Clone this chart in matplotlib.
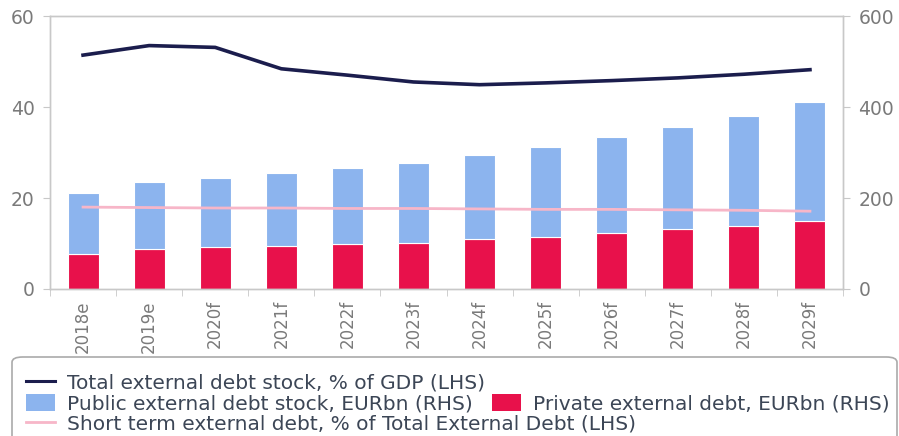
import matplotlib.pyplot as plt
from matplotlib.patches import FancyBboxPatch, Patch
from matplotlib.lines import Line2D
import numpy as np

years = ['2018e', '2019e', '2020f', '2021f', '2022f', '2023f',
         '2024f', '2025f', '2026f', '2027f', '2028f', '2029f']
private_debt = [77, 87, 92, 94, 98, 102, 109, 115, 122, 132, 139, 149]
total_stock = [212, 236, 245, 256, 265, 276, 294, 313, 334, 357, 381, 412]
public_debt = [t - p for t, p in zip(total_stock, private_debt)]
debt_gdp = [51.4, 53.5, 53.1, 48.4, 47.0, 45.5, 44.9, 45.3, 45.8, 46.4, 47.2, 48.2]
short_term = [18.0, 17.9, 17.8, 17.8, 17.7, 17.7, 17.6, 17.5, 17.5, 17.4, 17.3, 17.1]

navy = '#1b1d4d'
blue = '#8cb4ee'
red = '#e8114b'
pink = '#f7b6c8'
grey = '#c8c8c8'
txt = '#7a7a7a'

plt.rcParams['font.family'] = ['DejaVu Sans']

fig = plt.figure(figsize=(8.99, 4.36), dpi=100)
ax = fig.add_axes([50 / 899, 1 - 289 / 436, 793 / 899, 273 / 436])
ax2 = ax.twinx()

x = np.arange(len(years))
ax2.bar(x, private_debt, width=0.47, color=red, edgecolor='white', linewidth=0.8)
ax2.bar(x, public_debt, bottom=private_debt, width=0.47, color=blue,
        edgecolor='white', linewidth=0.8)
ax2.set_ylim(0, 600)
ax2.set_yticks([0, 200, 400, 600])

ax.plot(x, short_term, color=pink, lw=2)
ax.plot(x, debt_gdp, color=navy, lw=2.6)
ax.set_ylim(0, 60)
ax.set_yticks([0, 20, 40, 60])
ax.set_xlim(-0.5, len(years) - 0.5)

# lines drawn above the bars
ax.set_zorder(ax2.get_zorder() + 1)
ax.patch.set_visible(False)

ax.set_xticks(x)
ax.set_xticklabels(years, rotation=90)
ax.set_xticks(np.arange(-0.5, len(years)), minor=True)
ax.tick_params(axis='x', which='major', length=0, pad=8, labelsize=12, labelcolor=txt)
ax.tick_params(axis='x', which='minor', length=5, color=grey)
ax.tick_params(axis='y', length=5, color=grey, labelsize=13.5, labelcolor=txt, pad=6)
ax2.tick_params(axis='y', length=5, color=grey, labelsize=13.5, labelcolor=txt, pad=6)
for a in (ax, ax2):
    for s in a.spines.values():
        s.set_color(grey)
        s.set_linewidth(1)

# legend box, bottom edge runs off the figure
box = FancyBboxPatch((12 / 899, -0.03), 885 / 899, (436 - 357) / 436 + 0.03,
                     boxstyle='round,pad=0,rounding_size=0.012',
                     transform=fig.transFigure, facecolor='white',
                     edgecolor='#aaaaaa', linewidth=1.2, zorder=5)
fig.patches.append(box)

leg_kw = dict(frameon=False, handlelength=1.45, handletextpad=0.6,
              borderpad=0, labelcolor='#3c4656', loc='center left',
              columnspacing=0.95, handleheight=0.85, borderaxespad=0,
              prop={'family': 'DejaVu Sans', 'size': 14.5})
rows = [
    ([Line2D([], [], color=navy, lw=2.2)],
     ['Total external debt stock, % of GDP (LHS)'], 383),
    ([Patch(facecolor=blue), Patch(facecolor=red)],
     ['Public external debt stock, EURbn (RHS)', 'Private external debt, EURbn (RHS)'], 404),
    ([Line2D([], [], color=pink, lw=2)],
     ['Short term external debt, % of Total External Debt (LHS)'], 424),
]
for handles, labels, ypix in rows:
    lg = fig.legend(handles, labels, ncol=len(labels),
                    bbox_to_anchor=(26 / 899, 1 - ypix / 436), **leg_kw)
    lg.set_zorder(6)

fig.savefig('out.png', dpi=100)
